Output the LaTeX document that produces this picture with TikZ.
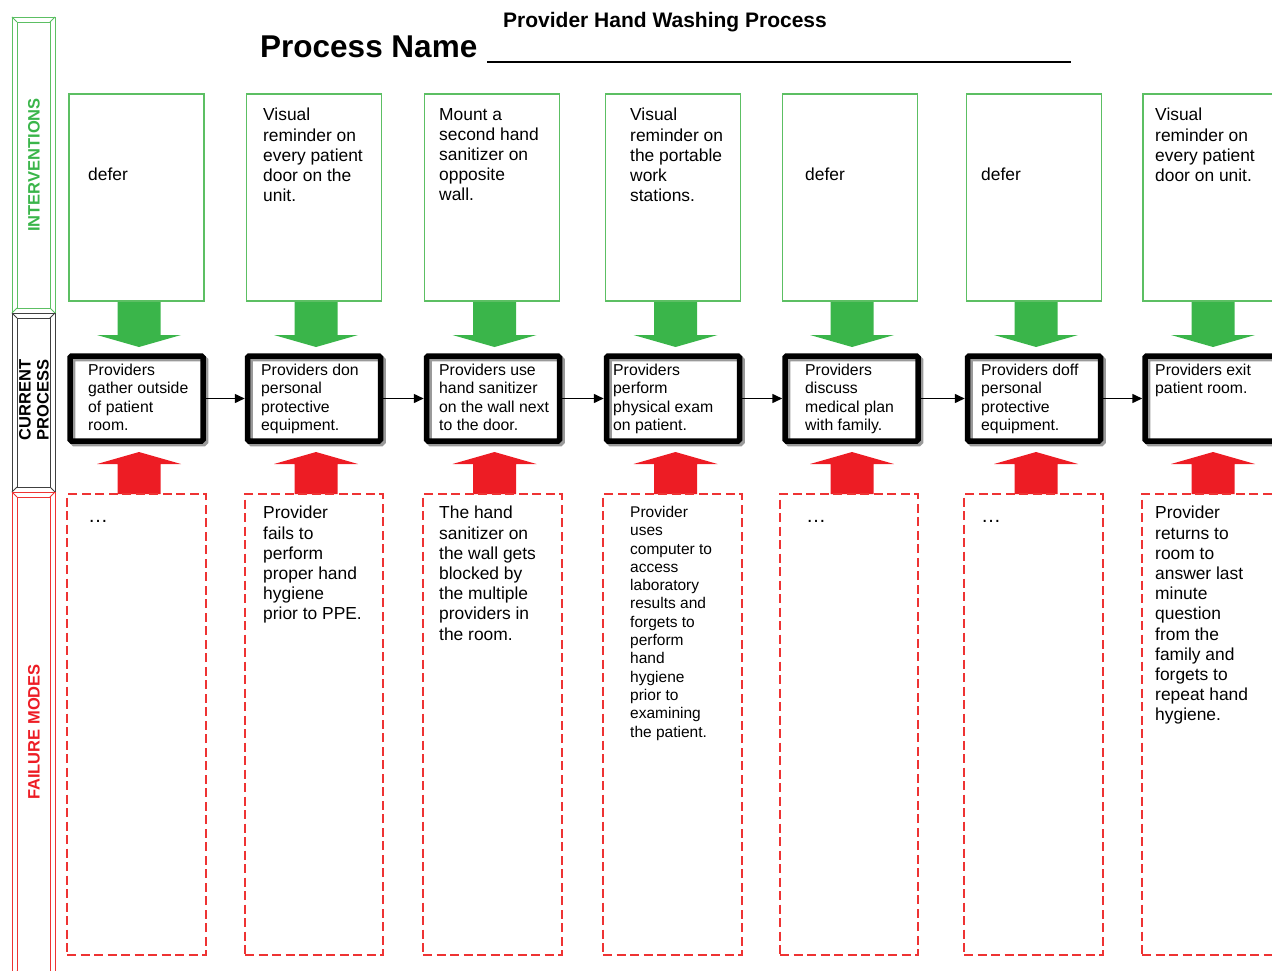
\documentclass[tikz,border=0pt]{standalone}
\usepackage{fontspec}
\setmainfont{Liberation Sans}
\usetikzlibrary{arrows.meta,calc}
\definecolor{gline}{HTML}{5CBF63}
\definecolor{gfill}{HTML}{3AB54A}
\definecolor{rfill}{HTML}{ED1C24}
\definecolor{rline}{HTML}{EE3333}
\definecolor{shadowgray}{HTML}{9A9A9A}
\begin{document}
\begin{tikzpicture}[x=1pt,y=-1pt,
  ibox/.style={draw=gline, line width=1.5pt, fill=white, minimum width=135pt, minimum height=207pt, inner sep=0pt},
  pbox/.style={draw=black, line width=5.5pt, rounded corners=1.5pt, minimum width=133pt, minimum height=85pt, inner sep=0pt,
    preaction={fill=white}, preaction={draw=shadowgray, transform canvas={shift={(2.5pt,-2.5pt)}}}},
  fbox/.style={draw=rline, line width=1.8pt, dash pattern=on 9pt off 4.5pt, minimum width=#1, minimum height=461pt, inner sep=0pt},
  fbox/.default=139pt,
  itext/.style={anchor=north west, inner sep=0pt, align=left, font=\fontsize{17.4}{20.2}\selectfont},
  ptext/.style={anchor=north west, inner sep=0pt, align=left, font=\fontsize{15.8}{18.2}\selectfont},
  stext/.style={anchor=north west, inner sep=0pt, align=left, font=\fontsize{15.5}{18.3}\selectfont},
  dots/.style={anchor=base west, inner sep=0pt, font=\fontsize{20}{22}\selectfont},
  conn/.style={draw=black, line width=1.5pt, -{Triangle[length=10pt,width=9pt]}},
  garrow/.style={fill=gfill},
  rarrow/.style={fill=rfill},
  bandlabel/.style={rotate=90, font=\fontsize{16.5}{18}\selectfont\bfseries, align=left, inner sep=0pt}
]
\useasboundingbox (0,0) rectangle (1272,971);
\clip (0,0) rectangle (1272,971);

% side band
\foreach \a/\b/\col in {17/313/gline, 313/492/black!75, 492/976/rline}{
  \draw[\col, line width=0.9pt] (12,\a) rectangle (55,\b);
  \draw[\col, line width=0.9pt] (17,\a+5) rectangle (50,\b-5);
  \draw[\col, line width=0.9pt] (12,\a) -- (17,\a+5) (55,\a) -- (50,\a+5) (12,\b) -- (17,\b-5) (55,\b) -- (50,\b-5);
}
\node[bandlabel, text=gfill] (lint) at (34,165) {INTERVENTIONS};
\node[bandlabel] (lcur) at (34,400) {CURRENT\\PROCESS};
\node[bandlabel, text=rfill] (lfail) at (34,732) {FAILURE MODES};

% title
\node[anchor=base west, inner sep=0pt, font=\fontsize{21}{24}\selectfont\bfseries] (title) at (503,28) {Provider Hand Washing Process};
\node[anchor=base west, inner sep=0pt, font=\fontsize{31.5}{36}\selectfont\bfseries] (pname) at (260,58) {Process Name};
\draw[line width=2.5pt] (487,62) -- (1071,62);

% block arrows
\foreach \c in {139,316,494.5,675.5,852,1036,1213}{
  \fill[garrow] (\c-21.5,300) -- (\c+21.5,300) -- (\c+21.5,335) -- (\c+42,335) -- (\c,347) -- (\c-42,335) -- (\c-21.5,335) -- cycle;
  \fill[rarrow] (\c-21.5,494) -- (\c+21.5,494) -- (\c+21.5,464) -- (\c+42,464) -- (\c,452) -- (\c-42,464) -- (\c-21.5,464) -- cycle;
}

% intervention boxes
\node[ibox] (g1) at (136.5,197.5) {};
\node[ibox] (g2) at (314,197.5) {};
\node[ibox] (g3) at (492,197.5) {};
\node[ibox] (g4) at (673,197.5) {};
\node[ibox] (g5) at (850,197.5) {};
\node[ibox] (g6) at (1034,197.5) {};
\node[ibox] (g7) at (1210.5,197.5) {};

\node[itext] (gt1) at (88,168) {defer};
\node[itext] (gt2) at (263,108) {Visual\\reminder on\\every patient\\door on the\\unit.};
\node[itext] (gt3) at (439,108) {Mount a\\second hand\\sanitizer on\\opposite\\wall.};
\node[itext] (gt4) at (630,108) {Visual\\reminder on\\the portable\\work\\stations.};
\node[itext] (gt5) at (805,168) {defer};
\node[itext] (gt6) at (981,168) {defer};
\node[itext] (gt7) at (1155,108) {Visual\\reminder on\\every patient\\door on unit.};

% failure boxes
\node[fbox=139pt] (f1) at (136.5,724.5) {};
\node[fbox=138pt] (f2) at (314,724.5) {};
\node[fbox=139pt] (f3) at (492.5,724.5) {};
\node[fbox=139pt] (f4) at (672.5,724.5) {};
\node[fbox=138pt] (f5) at (849,724.5) {};
\node[fbox=139pt] (f6) at (1033.5,724.5) {};
\node[fbox=138pt] (f7) at (1211,724.5) {};

\node[dots] (ft1) at (88,522) {…};
\node[itext] (ft2) at (263,506) {Provider\\fails to\\perform\\proper hand\\hygiene\\prior to PPE.};
\node[itext] (ft3) at (439,506) {The hand\\sanitizer on\\the wall gets\\blocked by\\the multiple\\providers in\\the room.};
\node[stext] (ft4) at (630,506) {Provider\\uses\\computer to\\access\\laboratory\\results and\\forgets to\\perform\\hand\\hygiene\\prior to\\examining\\the patient.};
\node[dots] (ft5) at (806,522) {…};
\node[dots] (ft6) at (981,522) {…};
\node[itext] (ft7) at (1155,506) {Provider\\returns to\\room to\\answer last\\minute\\question\\from the\\family and\\forgets to\\repeat hand\\hygiene.};

% process boxes
\node[pbox] (p1) at (136.5,398.5) {};
\node[pbox] (p2) at (314,398.5) {};
\node[pbox] (p3) at (493,398.5) {};
\node[pbox] (p4) at (673,398.5) {};
\node[pbox] (p5) at (851.5,398.5) {};
\node[pbox] (p6) at (1034,398.5) {};
\node[pbox] (p7) at (1211.5,398.5) {};

\node[ptext] (pt1) at (88,364) {Providers\\gather outside\\of patient\\room.};
\node[ptext] (pt2) at (261,364) {Providers don\\personal\\protective\\equipment.};
\node[ptext] (pt3) at (439,364) {Providers use\\hand sanitizer\\on the wall next\\to the door.};
\node[ptext] (pt4) at (613,364) {Providers\\perform\\physical exam\\on patient.};
\node[ptext] (pt5) at (805,364) {Providers\\discuss\\medical plan\\with family.};
\node[ptext] (pt6) at (981,364) {Providers doff\\personal\\protective\\equipment.};
\node[ptext] (pt7) at (1155,364) {Providers exit\\patient room.};

\draw[conn] (p1) -- (p2);
\draw[conn] (p2) -- (p3);
\draw[conn] (p3) -- (p4);
\draw[conn] (p4) -- (p5);
\draw[conn] (p5) -- (p6);
\draw[conn] (p6) -- (p7);
\end{tikzpicture}
\end{document}
